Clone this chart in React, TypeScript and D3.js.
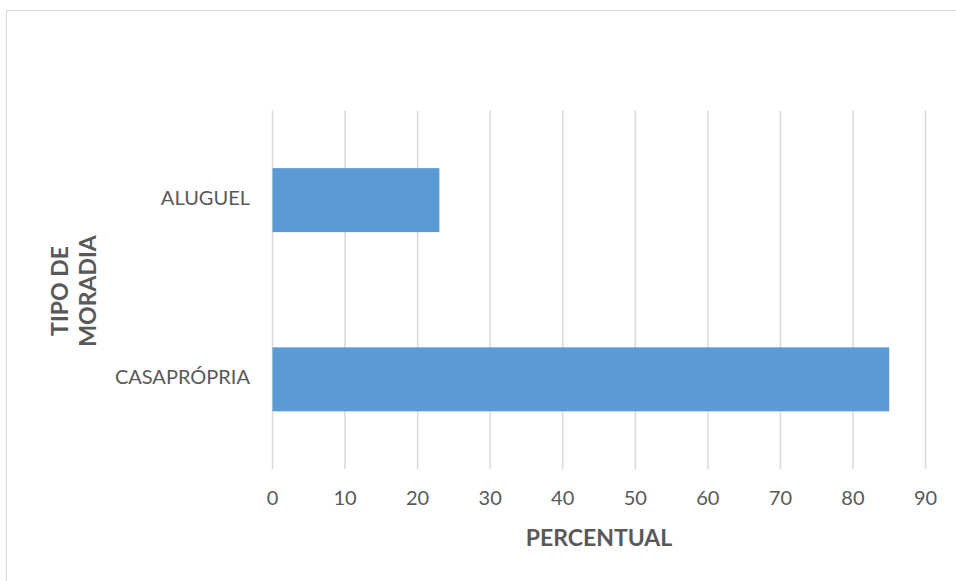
import React from "react";
import * as d3 from "d3";

const categories = ["CASAPRÓPRIA", "ALUGUEL"];
const values = [85, 23];
const xTicks = [0, 10, 20, 30, 40, 50, 60, 70, 80, 90];
const xTitle = "PERCENTUAL";
const yTitleLines = ["TIPO DE", "MORADIA"];

const W = 956;
const H = 581;
const plot = { left: 272.5, right: 925.5, top: 110.5, bottom: 469 };
const FONT = "Lato, 'Open Sans', sans-serif";

export default function App() {
  const x = d3.scaleLinear().domain([0, 90]).range([plot.left, plot.right]);
  const y = d3
    .scaleBand<string>()
    .domain([...categories].reverse())
    .range([plot.top, plot.bottom])
    .paddingInner(0.643)
    .paddingOuter(0.3215);

  return (
    <svg
      width={W}
      height={H}
      style={{ position: "absolute", left: 0, top: 0, background: "#fff" }}
      fontFamily={FONT}
    >
      <rect x={6.5} y={10.5} width={W} height={H} fill="#fff" stroke="#d9d9d9" strokeWidth={1} />
      {xTicks.map((t) => (
        <line
          key={t}
          x1={x(t)}
          x2={x(t)}
          y1={plot.top}
          y2={plot.bottom}
          stroke="#d9d9d9"
          strokeWidth={1.5}
        />
      ))}
      {categories.map((c, i) => (
        <rect
          key={c}
          x={x(0)}
          y={y(c)}
          width={x(values[i]) - x(0)}
          height={y.bandwidth()}
          fill="#5b9bd5"
        />
      ))}
      {xTicks.map((t) => (
        <text
          key={t}
          x={x(t)}
          y={500}
          textAnchor="middle"
          dominantBaseline="middle"
          fontSize={20}
          fill="#595959"
        >
          {t}
        </text>
      ))}
      {categories.map((c) => (
        <text
          key={c}
          x={250}
          y={(y(c) as number) + y.bandwidth() / 2}
          textAnchor="end"
          dominantBaseline="middle"
          fontSize={20}
          fill="#595959"
        >
          {c}
        </text>
      ))}
      <text
        x={(plot.left + plot.right) / 2}
        y={540}
        textAnchor="middle"
        dominantBaseline="middle"
        fontSize={23}
        fontWeight="bold"
        fill="#595959"
      >
        {xTitle}
      </text>
      <g transform={`translate(76, 291) rotate(-90)`}>
        {yTitleLines.map((l, i) => (
          <text
            key={l}
            x={0}
            y={(i - 0.5) * 28}
            textAnchor="middle"
            dominantBaseline="middle"
            fontSize={23}
            fontWeight="bold"
            fill="#595959"
          >
            {l}
          </text>
        ))}
      </g>
    </svg>
  );
}
